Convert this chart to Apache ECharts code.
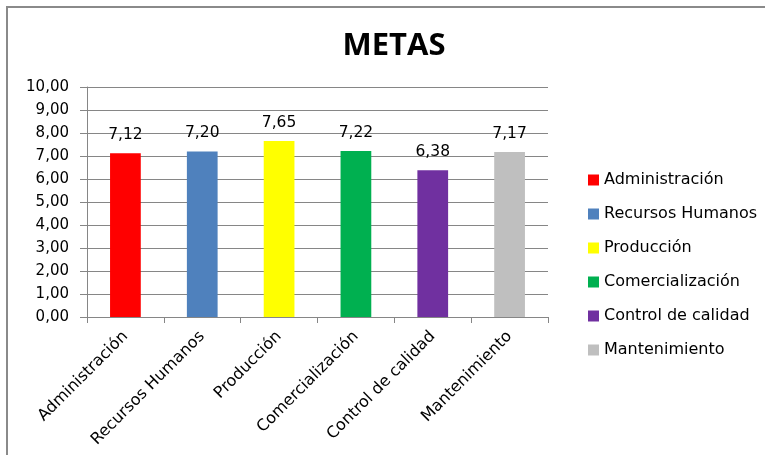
<!DOCTYPE html>
<html>
<head>
<meta charset="utf-8">
<script src="https://cdn.jsdelivr.net/npm/echarts@6/dist/echarts.min.js"></script>
<style>
html,body{margin:0;padding:0;background:#fff;}
#wrap{position:relative;width:765px;height:455px;overflow:hidden;}
#chart{position:absolute;left:0;top:0;width:765px;height:455px;}
#frame{position:absolute;left:6px;top:6px;width:800px;height:500px;border-top:2px solid #8a8a8a;border-left:2px solid #8a8a8a;pointer-events:none;}
</style>
</head>
<body>
<div id="wrap"><div id="chart"></div><div id="frame"></div></div>
<script>
const titleText = 'METAS';
const categories = ['Administración', 'Recursos Humanos', 'Producción', 'Comercialización', 'Control de calidad', 'Mantenimiento'];
const values = [7.12, 7.20, 7.65, 7.22, 6.38, 7.17];
const colors = ['#FF0000', '#4F81BD', '#FFFF00', '#00B050', '#7030A0', '#BFBFBF'];
const yMin = 0, yMax = 10, yStep = 1;

const FONT = 'DejaVu Sans';
const fmt = v => Number(v).toFixed(2).replace('.', ',');

const series = categories.map((name, i) => ({
  name: name,
  type: 'bar',
  stack: 'all',
  barWidth: '40%',
  itemStyle: { color: colors[i] },
  data: categories.map((c, j) => (j === i ? values[i] : '-')),
  label: {
    show: true,
    position: 'top',
    distance: 10,
    color: '#000',
    fontFamily: FONT,
    fontSize: 15.5,
    formatter: p => fmt(p.value)
  }
}));

const chart = echarts.init(document.getElementById('chart'), null, { renderer: 'canvas' });
chart.setOption({
  animation: false,
  backgroundColor: '#fff',
  title: {
    text: titleText,
    left: 389,
    textAlign: 'center',
    top: 26,
    textStyle: { fontFamily: 'Open Sans', fontWeight: 'bold', fontSize: 31, color: '#000' }
  },
  legend: {
    orient: 'vertical',
    left: 583,
    top: 167,
    itemWidth: 11,
    itemHeight: 11,
    itemGap: 18,
    icon: 'rect',
    textStyle: { fontFamily: FONT, fontSize: 16, color: '#000', padding: [0, 0, 0, 0] },
    data: categories
  },
  grid: { left: 87, top: 87, right: 217, bottom: 138, containLabel: false },
  xAxis: {
    type: 'category',
    data: categories,
    axisLine: { show: true, lineStyle: { color: '#868686', width: 1 } },
    axisTick: { show: true, length: 6, lineStyle: { color: '#868686' } },
    axisLabel: { rotate: 45, margin: 17, color: '#000', fontFamily: FONT, fontSize: 16, interval: 0 },
    splitLine: { show: false }
  },
  yAxis: {
    type: 'value',
    min: yMin, max: yMax, interval: yStep,
    axisLine: { show: true, lineStyle: { color: '#868686', width: 1 } },
    axisTick: { show: true, length: 7, lineStyle: { color: '#868686' } },
    axisLabel: { margin: 18, color: '#000', fontFamily: FONT, fontSize: 15, formatter: v => fmt(v) },
    splitLine: { show: true, lineStyle: { color: '#868686', width: 1 } }
  },
  series: series
});
</script>
</body>
</html>
